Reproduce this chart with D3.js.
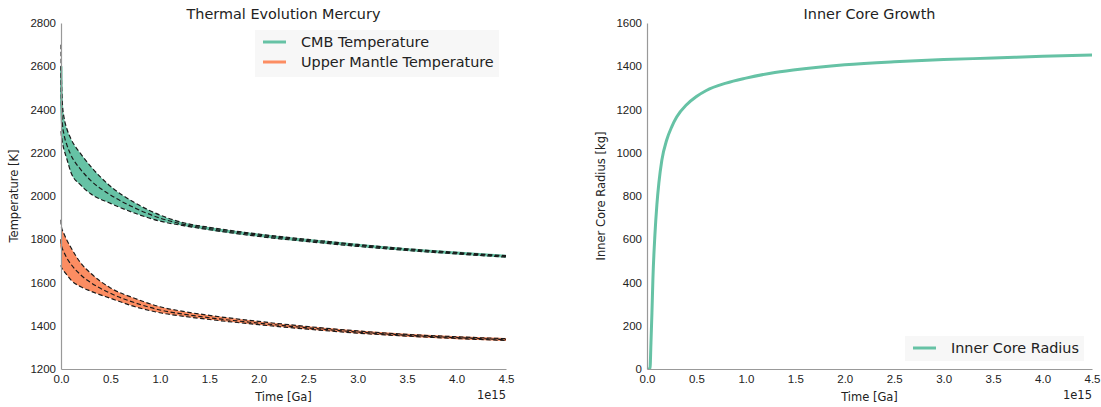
<!DOCTYPE html>
<html>
<head>
<meta charset="utf-8">
<script src="https://cdn.jsdelivr.net/npm/d3@7"></script>
<style>
  html, body { margin: 0; padding: 0; background: #fff; }
  svg { display: block; font-family: "DejaVu Sans", sans-serif; }
</style>
</head>
<body>
<svg id="chart" width="1101" height="407"></svg>
<script>
// Time in units of 1e15 (labelled "Time [Ga]")
const thermalTimes = [0, 0.002, 0.015, 0.03, 0.06, 0.1, 0.2, 0.3, 0.5, 0.75, 1.0, 1.25, 1.5, 2.0, 2.5, 3.0, 3.5, 4.0, 4.5];

// Core-mantle boundary temperature envelope [K]
const cmbUpper = [2700, 2600, 2420, 2365, 2310, 2265, 2195, 2137, 2045, 1968, 1912, 1875, 1855, 1824, 1799, 1776, 1756, 1739, 1724];
const cmbMid   = [2600, 2480, 2330, 2285, 2235, 2190, 2122, 2072, 2005, 1944, 1898, 1868, 1849, 1819, 1794, 1772, 1752, 1736, 1721];
const cmbLower = [2300, 2290, 2245, 2215, 2170, 2110, 2050, 2010, 1966, 1920, 1884, 1862, 1844, 1813, 1789, 1767, 1748, 1732, 1717];

// Upper mantle temperature envelope [K]
const umUpper = [1890, 1865, 1840, 1825, 1795, 1762, 1690, 1643, 1575, 1526, 1488, 1465, 1448, 1420, 1396, 1376, 1360, 1349, 1340];
const umMid   = [1800, 1780, 1755, 1740, 1712, 1685, 1635, 1600, 1550, 1506, 1473, 1453, 1437, 1412, 1390, 1371, 1356, 1345, 1336];
const umLower = [1680, 1675, 1662, 1652, 1635, 1612, 1580, 1560, 1527, 1488, 1460, 1443, 1429, 1405, 1384, 1366, 1352, 1341, 1332];

// Inner core growth
const coreTimes  = [0, 0.03, 0.04, 0.05, 0.06, 0.08, 0.1, 0.12, 0.15, 0.2, 0.25, 0.3, 0.4, 0.5, 0.6, 0.8, 1.0, 1.25, 1.5, 2.0, 2.5, 3.0, 3.5, 4.0, 4.5];
const coreRadius = [0, 0, 120, 260, 420, 620, 760, 860, 965, 1060, 1120, 1165, 1222, 1260, 1288, 1322, 1345, 1368, 1384, 1407, 1421, 1431, 1438, 1446, 1452];

const xTicks = [0, 0.5, 1.0, 1.5, 2.0, 2.5, 3.0, 3.5, 4.0, 4.5];
const tempTicks = [1200, 1400, 1600, 1800, 2000, 2200, 2400, 2600, 2800];
const radiusTicks = [0, 200, 400, 600, 800, 1000, 1200, 1400, 1600];

const green = "#66c2a5";
const orange = "#fc8d62";
const textColor = "#222222";
const spineColor = "#999999";

const svg = d3.select("#chart");

function makePanel(opts) {
  const g = svg.append("g");
  const x = d3.scaleLinear().domain([0, 4.5]).range([opts.left, opts.right]);
  const y = d3.scaleLinear().domain(opts.yDomain).range([opts.bottom, opts.top]);

  const clipId = opts.id + "-clip";
  g.append("clipPath").attr("id", clipId)
    .append("rect")
    .attr("x", opts.left - 1).attr("y", opts.top)
    .attr("width", opts.right - opts.left + 3).attr("height", opts.bottom - opts.top);

  const plot = g.append("g").attr("clip-path", `url(#${clipId})`);

  // Axes: spines and labels only, no tick marks
  const xAxis = d3.axisBottom(x).tickValues(xTicks).tickFormat(d3.format(".1f")).tickSize(0).tickPadding(4);
  const yAxis = d3.axisLeft(y).tickValues(opts.yTicks).tickFormat(d3.format("d")).tickSize(0).tickPadding(5);

  const gx = g.append("g").attr("transform", `translate(0,${opts.bottom})`).call(xAxis);
  const gy = g.append("g").attr("transform", `translate(${opts.left},0)`).call(yAxis);
  [gx, gy].forEach(a => {
    a.select(".domain").attr("stroke", spineColor).attr("stroke-width", 1.2);
    a.selectAll(".tick text").attr("font-size", 11.5).attr("fill", textColor);
  });
  gx.selectAll(".tick text").attr("dy", "0.85em");

  // Title and axis labels
  g.append("text")
    .attr("x", (opts.left + opts.right) / 2).attr("y", 18.5)
    .attr("text-anchor", "middle").attr("font-size", 14.4).attr("fill", textColor)
    .text(opts.title);
  g.append("text")
    .attr("x", (opts.left + opts.right) / 2).attr("y", 401)
    .attr("text-anchor", "middle").attr("font-size", 11.5).attr("fill", textColor)
    .text("Time [Ga]");
  g.append("text")
    .attr("transform", `translate(${opts.ylabelX},${(opts.top + opts.bottom) / 2}) rotate(-90)`)
    .attr("text-anchor", "middle").attr("font-size", 11.5).attr("fill", textColor)
    .text(opts.ylabel);
  g.append("text")
    .attr("x", opts.right).attr("y", 399)
    .attr("text-anchor", "end").attr("font-size", 11.5).attr("fill", textColor)
    .text("1e15");

  return { g, plot, x, y };
}

// ---------- Thermal evolution panel ----------
const left = makePanel({
  id: "thermal", left: 61, right: 506, top: 23, bottom: 369,
  yDomain: [1200, 2800], yTicks: tempTicks,
  title: "Thermal Evolution Mercury", ylabel: "Temperature [K]", ylabelX: 18
});

function drawBand(panel, upper, mid, lower, color) {
  const rows = thermalTimes.map((t, i) => ({ t, hi: upper[i], mid: mid[i], lo: lower[i] }));
  const area = d3.area()
    .x(d => panel.x(d.t)).y0(d => panel.y(d.lo)).y1(d => panel.y(d.hi))
    .curve(d3.curveMonotoneX);
  panel.plot.append("path").datum(rows)
    .attr("d", area).attr("fill", color).attr("stroke", "none");
  // mean curve in the series colour
  panel.plot.append("path").datum(rows)
    .attr("d", d3.line().x(d => panel.x(d.t)).y(d => panel.y(d.mid)).curve(d3.curveMonotoneX))
    .attr("fill", "none").attr("stroke", color).attr("stroke-width", 3);
  // dashed envelope and mean
  ["hi", "mid", "lo"].forEach(k => {
    const line = d3.line().x(d => panel.x(d.t)).y(d => panel.y(d[k])).curve(d3.curveMonotoneX);
    panel.plot.append("path").datum(rows)
      .attr("d", line).attr("fill", "none")
      .attr("stroke", "#1a1a1a").attr("stroke-width", 1.2)
      .attr("stroke-dasharray", "4.5,2.5");
  });
}

drawBand(left, cmbUpper, cmbMid, cmbLower, green);
drawBand(left, umUpper, umMid, umLower, orange);

// Legend
const leg1 = left.g.append("g");
leg1.append("rect").attr("x", 255).attr("y", 30).attr("width", 244).attr("height", 47).attr("fill", "#f7f7f7");
[["CMB Temperature", green, 42], ["Upper Mantle Temperature", orange, 62]].forEach(([label, c, yy]) => {
  leg1.append("line").attr("x1", 263).attr("x2", 286).attr("y1", yy).attr("y2", yy)
    .attr("stroke", c).attr("stroke-width", 3);
  leg1.append("text").attr("x", 301).attr("y", yy + 5).attr("font-size", 14.4).attr("fill", textColor).text(label);
});

// ---------- Inner core growth panel ----------
const right = makePanel({
  id: "core", left: 647, right: 1092, top: 23, bottom: 369,
  yDomain: [0, 1600], yTicks: radiusTicks,
  title: "Inner Core Growth", ylabel: "Inner Core Radius [kg]", ylabelX: 605
});

const coreRows = coreTimes.map((t, i) => ({ t, r: coreRadius[i] }));
right.plot.append("path").datum(coreRows)
  .attr("d", d3.line().x(d => right.x(d.t)).y(d => right.y(d.r)).curve(d3.curveMonotoneX))
  .attr("fill", "none").attr("stroke", green).attr("stroke-width", 3);

const leg2 = right.g.append("g");
leg2.append("rect").attr("x", 905).attr("y", 336).attr("width", 179).attr("height", 25).attr("fill", "#f7f7f7");
leg2.append("line").attr("x1", 913).attr("x2", 936).attr("y1", 348).attr("y2", 348)
  .attr("stroke", green).attr("stroke-width", 3);
leg2.append("text").attr("x", 951).attr("y", 353).attr("font-size", 14.4).attr("fill", textColor).text("Inner Core Radius");
</script>
</body>
</html>
